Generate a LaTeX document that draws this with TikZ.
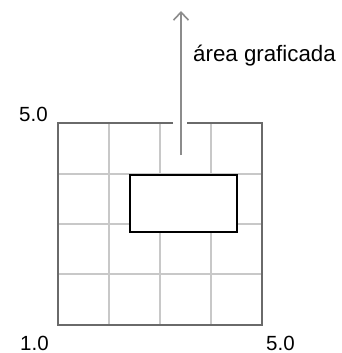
\documentclass[tikz,border=0pt]{standalone}
\usepackage{fontspec}
\setmainfont{Liberation Sans}
\usetikzlibrary{arrows.meta}
\definecolor{framegray}{HTML}{6A6A6A}
\definecolor{gridgray}{HTML}{C8C8C8}
\definecolor{arrowgray}{HTML}{8C8C8C}
\begin{document}
\begin{tikzpicture}[x=1pt,y=-1pt,
  gridline/.style={draw=gridgray,line width=1.3pt},
  frameline/.style={draw=framegray,line width=1.8pt},
  areabox/.style={draw=black,line width=2pt},
  uparrow/.style={draw=arrowgray,line width=2pt,-{Straight Barb[length=8pt,width=15pt,line width=1.6pt]}},
  lbl/.style={inner sep=0pt,font=\fontsize{20.5}{24}\selectfont},
  biglbl/.style={inner sep=0pt,font=\fontsize{22.3}{26}\selectfont}]
\useasboundingbox (0,0) rectangle (342,353);
% grid
\foreach \x in {109,160,211} \draw[gridline] (\x,123) -- (\x,325);
\foreach \y in {174,224,274} \draw[gridline] (58,\y) -- (262,\y);
% frame with gap
\draw[frameline] (173,123) -- (58,123) -- (58,325) -- (262,325) -- (262,123) -- (187,123);
% plotted area
\node[areabox,minimum width=107pt,minimum height=57pt,inner sep=0pt,anchor=north west,fill=white] (area) at (129,174) {};
% arrow
\coordinate (arrstart) at (181,155);
\coordinate (arrend) at (181,11);
\draw[uparrow] (arrstart) -- (arrend);
% labels
\node[biglbl,anchor=base west] (lab) at (193,62) {área graficada};
\node[lbl,anchor=base west] (ytop) at (19,121) {5.0};
\node[lbl,anchor=base west] (xleft) at (20,350) {1.0};
\node[lbl,anchor=base west] (xright) at (266,350) {5.0};
\end{tikzpicture}
\end{document}
